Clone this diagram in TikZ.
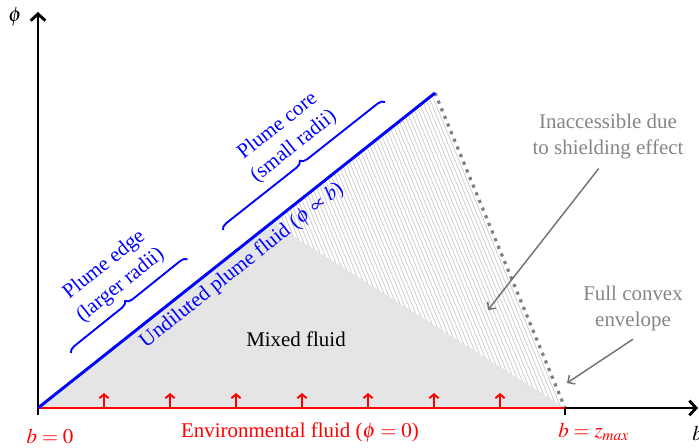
\documentclass[tikz,border=0pt]{standalone}
\usepackage{mathptmx}
\usepackage[no-math]{fontspec}
\setmainfont{Liberation Serif}
\usetikzlibrary{arrows.meta,calc,decorations.pathreplacing}

\begin{document}
\begin{tikzpicture}[x=0.75pt, y=0.75pt, font=\fontsize{15.7}{19.5}\selectfont,
  axis/.style={line width=2.2pt, -{Straight Barb[length=5pt,width=11pt]}},
  inflow/.style={red, line width=1.4pt, -{Straight Barb[length=3pt,width=7pt]}},
  hatch/.style={gray!40, line width=0.55pt},
  envelope/.style={gray, line width=2.4pt, dash pattern=on 2.4pt off 3.8pt},
  brace/.style={blue, line width=1.4pt, decorate, decoration={brace, amplitude=5pt}},
  note/.style={black!48, align=center},
  pointer/.style={black!55, line width=1.1pt, -{Straight Barb[length=4pt,width=8pt]}}]
  \useasboundingbox (0,0) rectangle (699,447);

  % corners of the mixing diagram
  \coordinate (O) at (38,39);
  \coordinate (E) at (435,354);
  \coordinate (B) at (565,39);
  \coordinate (P) at (272,224.4);
  \coordinate (ytop) at (38,435);
  \coordinate (xend) at (698,39);

  % mixed and inaccessible regions
  \fill[gray!20] (O) -- (P) -- (B) -- cycle;
  \foreach \t in {1,...,54} {
    \draw[hatch] ($(P)!\t/55!(E)$) -- ($(P)!\t/55!(B)$);
  }
  \draw[envelope] (E) -- (B);

  % axes
  \draw[axis] (38,32) -- (ytop);
  \draw[axis] (O) -- (xend);
  \draw[line width=2pt] (B) -- ++(0,-7);
  \node[anchor=base, inner sep=0pt] (philab) at (15,425) {$\phi$};
  \node[anchor=base west, inner sep=0pt] (blab) at (692,7) {$b$};

  % environmental fluid
  \draw[red, line width=2.2pt] (O) -- (B);
  \foreach \x in {104,170,...,500} {
    \draw[inflow] (\x,39) -- (\x,54);
  }
  \node[red, anchor=base] (bzero) at (50,4) {$b=0$};
  \node[red, anchor=base] (envfluid) at (300,10) {Environmental fluid ($\phi=0$)};
  \node[red, anchor=base west, inner sep=0pt] (bmax) at (558,10) {$b=z_{max}$};

  % undiluted plume fluid
  \draw[blue, line width=2.2pt] (O) -- (E)
    node[pos=0.49, sloped, below, inner sep=3pt] (undiluted) {Undiluted plume fluid ($\phi\propto b$)};
  \draw[brace] (71,94) -- (188,188)
    node[pos=0.54, sloped, above=5pt, align=center] (edge) {Plume edge\\(larger radii)};
  \draw[brace] (223,217) -- (385,345)
    node[pos=0.52, sloped, above=5pt, align=center] (core) {Plume core\\(small radii)};

  \node (mixed) at (296,108) {Mixed fluid};

  % notes
  \node[note] (inacc) at (608,311) {Inaccessible due\\to shielding effect};
  \node[note] (convex) at (633,139) {Full convex\\envelope};
  \coordinate (inaccTip) at (488,137);
  \coordinate (convexTip) at (567,64);
  \draw[pointer] ([shift={(-7pt,-4pt)}]inacc.south) -- (inaccTip);
  \draw[pointer] ([yshift=-3pt]convex.south) -- (convexTip);
\end{tikzpicture}
\end{document}
